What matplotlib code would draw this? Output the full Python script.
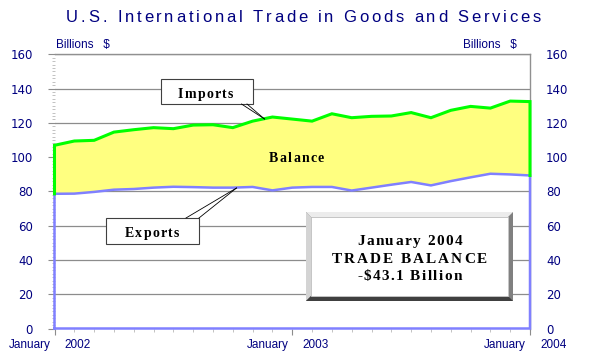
"""U.S. International Trade in Goods and Services, Jan 2002 - Jan 2004."""

import matplotlib

matplotlib.use("Agg")

import matplotlib.pyplot as plt
import numpy as np
from matplotlib import transforms
from matplotlib.font_manager import FontProperties, findfont
from matplotlib.ft2font import FT2Font
from matplotlib.lines import Line2D
from matplotlib.patches import Polygon, Rectangle
from matplotlib.ticker import MultipleLocator

# monthly values, billions of dollars
months = (
    [f"{m} 2002" for m in ["January", "February", "March", "April", "May", "June",
                           "July", "August", "September", "October", "November", "December"]]
    + [f"{m} 2003" for m in ["January", "February", "March", "April", "May", "June",
                             "July", "August", "September", "October", "November", "December"]]
    + ["January 2004"]
)
imports = [106.9, 109.4, 109.8, 114.6, 116.0, 117.2, 116.6, 118.7, 118.9, 117.2, 121.0, 123.4,
           122.2, 121.0, 125.3, 123.0, 123.8, 124.0, 126.0, 123.0, 127.3, 129.6, 128.6, 132.7,
           132.4]
exports = [78.6, 78.7, 79.7, 81.0, 81.4, 82.2, 82.7, 82.5, 82.2, 82.2, 82.6, 80.6,
           82.2, 82.6, 82.6, 80.5, 82.2, 83.9, 85.5, 83.5, 86.0, 88.2, 90.3, 89.9,
           89.3]
y_ticks = [0, 20, 40, 60, 80, 100, 120, 140, 160]
callout_lines = ["January 2004", "TRADE BALANCE", "-$43.1 Billion"]

W, H, DPI = 600, 360, 100
NAVY = "#000080"
GREEN = "#00ff00"
BLUE = "#8080ff"
YELLOW = "#ffff80"
GRID = "#8c8c8c"

fig = plt.figure(figsize=(W / DPI, H / DPI), dpi=DPI)
ax = fig.add_axes([54.5 / W, 1 - 328.5 / H, 475.5 / W, 274.2 / H])

x = np.arange(len(months))
ax.set_xlim(x[0], x[-1])
ax.set_ylim(y_ticks[0], y_ticks[-1])

# balance band and the two outlines
ax.fill_between(x, exports, imports, color=YELLOW, lw=0, zorder=1)
ax.plot([x[0], *x, x[-1], x[0]], [0, *exports, 0, 0], color=BLUE, lw=1.8,
        clip_on=False, zorder=3, solid_joinstyle="miter")
ax.plot([x[0], *x, x[-1]], [exports[0], *imports, exports[-1]], color=GREEN, lw=2.2,
        clip_on=False, zorder=4, solid_joinstyle="miter")

ax.set_yticks(y_ticks)
ax.yaxis.set_minor_locator(MultipleLocator(2))
ax.yaxis.grid(True, color=GRID, lw=0.9)
ax.set_axisbelow(True)
ax.tick_params(axis="y", which="major", length=5, color=GRID, pad=10.5,
               labelsize=8.5, labelcolor=NAVY)
ax.tick_params(axis="y", which="minor", length=2.2, color="#b8b8b8")

jan_idx = [i for i, m in enumerate(months) if m.startswith("January")]
ax.set_xticks(jan_idx)
ax.set_xticks(x, minor=True)
ax.tick_params(axis="x", which="major", length=4.5, color=GRID, labelbottom=False)
ax.tick_params(axis="x", which="minor", length=2.2, color="#b8b8b8")

for side in ["left", "bottom"]:
    ax.spines[side].set_visible(False)
for side in ["top", "right"]:
    ax.spines[side].set_color("#909090")
    ax.spines[side].set_linewidth(1)

ax2 = ax.twinx()
ax2.set_ylim(y_ticks[0], y_ticks[-1])
ax2.set_yticks(y_ticks)
ax2.tick_params(axis="y", length=0, pad=11.5, labelsize=8.5, labelcolor=NAVY)
for sp in ax2.spines.values():
    sp.set_visible(False)

# "January  2002" style labels under the axis
lab_tr = transforms.blended_transform_factory(ax.transData, fig.transFigure)
for i in jan_idx:
    word, year = months[i].split()
    ax.text(i, 1 - 345 / H, word, ha="right", va="center", fontsize=8.5, color=NAVY,
            family="Liberation Sans",
            transform=transforms.offset_copy(lab_tr, fig=fig, x=-4, y=0, units="dots"))
    ax.text(i, 1 - 345 / H, year, ha="left", va="center", fontsize=8.5, color=NAVY,
            family="Liberation Sans",
            transform=transforms.offset_copy(lab_tr, fig=fig, x=10, y=0, units="dots"))

for cx in [56, 463]:
    fig.text(cx / W, 1 - 48 / H, "Billions   $", ha="left", va="baseline", fontsize=8.5,
             color=NAVY, family="Liberation Sans")


def px(xp, yp):
    return xp / W, 1 - yp / H


def spaced_text(cx, base, s, width, size, family, weight="normal", color="black"):
    """Letter-spaced text centred on pixel cx, stretched to `width` pixels."""
    prop = FontProperties(family=family, weight=weight, size=size)
    font = FT2Font(findfont(prop))
    font.set_size(size, DPI)
    adv = [font.load_char(ord(c)).linearHoriAdvance / 65536 for c in s]
    track = (width - sum(adv)) / (len(s) - 1)
    pos = cx - width / 2
    for c, a in zip(s, adv):
        fig.text(*px(pos, base), c, fontproperties=prop, color=color,
                 ha="left", va="baseline", zorder=10)
        pos += a + track


def poly(points, fc, ec="none", lw=0.0):
    fig.add_artist(Polygon([px(*p) for p in points], closed=True, facecolor=fc,
                           edgecolor=ec, lw=lw, transform=fig.transFigure, zorder=5))


def line(p0, p1):
    fig.add_artist(Line2D(*zip(px(*p0), px(*p1)), color="black", lw=0.6,
                          transform=fig.transFigure, zorder=6))


spaced_text(303.5, 22, "U.S. International Trade in Goods and Services", 475, 12,
            "Liberation Sans", color=NAVY)

# Imports / Exports callouts
poly([(161, 79), (253, 79), (253, 104), (161, 104)], "white", "#404040", 0.8)
spaced_text(205.5, 98, "Imports", 55, 10, "Liberation Serif", "bold")
line((241.5, 104), (264.5, 119))
line((247, 104), (264.5, 119))

poly([(106, 218), (199, 218), (199, 244), (106, 244)], "white", "#404040", 0.8)
spaced_text(152, 237, "Exports", 54, 10, "Liberation Serif", "bold")
line((186, 218), (236.5, 188))
line((199, 218), (236.5, 188))

spaced_text(296.5, 162, "Balance", 55, 10, "Liberation Serif", "bold")

# bevelled box with the headline figure
x0, y0, x1, y1, b = 306, 212, 513, 301, 5
poly([(x0, y0), (x1, y0), (x1, y1), (x0, y1)], "#808080")
poly([(x0, y0), (x1, y0), (x1 - b, y0 + b), (x0 + b, y0 + b)], "#ececec")
poly([(x0, y0), (x0 + b, y0 + b), (x0 + b, y1 - b), (x0, y1)], "#d4d4d4")
poly([(x0, y1), (x0 + b, y1 - b), (x1 - b, y1 - b), (x1, y1)], "#404040")
poly([(x0 + b, y0 + b), (x1 - b, y0 + b), (x1 - b, y1 - b), (x0 + b, y1 - b)],
     "white", "#c8c8c8", 0.6)
for text, base, width in zip(callout_lines, [245, 263, 280], [105, 155, 105]):
    spaced_text(409.5, base, text, width, 11, "Liberation Serif", "bold")

fig.savefig("out.png", dpi=DPI)
